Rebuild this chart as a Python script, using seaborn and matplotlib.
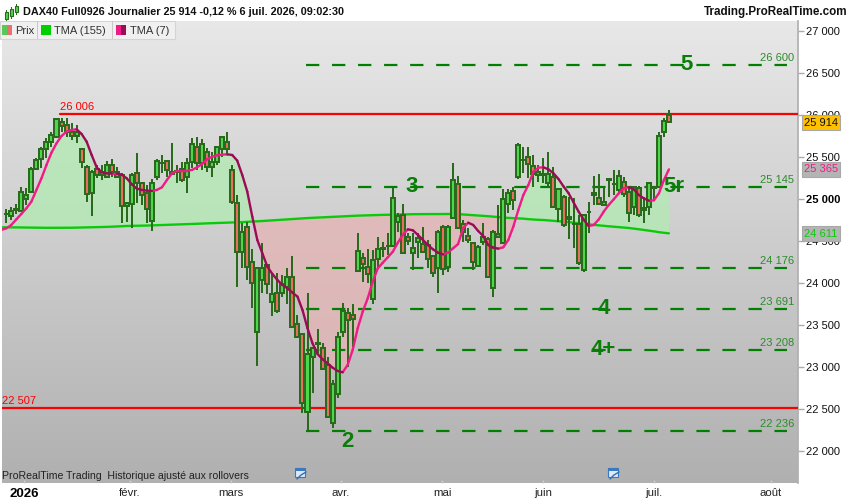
import numpy as np
import pandas as pd
import seaborn as sns
import matplotlib.pyplot as plt
from matplotlib.patches import Rectangle
from matplotlib.lines import Line2D

open_px = [
    24818, 24802, 24875, 24862, 24996, 25080, 25354, 25473, 25592, 25675,
    25735, 25913, 25881, 25802, 25754, 25592, 25385, 25068, 25354, 25282,
    25258, 25401, 25326, 25282, 24913, 24937, 25314, 25195, 25068, 24742,
    25258, 25423, 25453, 25326, 25324, 25362, 25258, 25437, 25615, 25425,
    25556, 25377, 25437, 25592, 25675, 25346, 24949, 24366, 24671, 24254,
    23421, 24036, 24215, 23778, 23877, 23885, 23949, 24068, 23508, 23389,
    22461, 23116, 23290, 23223, 23020, 22330, 22675, 23421, 23639, 23616,
    24147, 24294, 24195, 23806, 24282, 24407, 24439, 24445, 24722, 24810,
    24552, 24361, 24492, 24461, 24452, 24322, 24175, 24663, 24195, 24770,
    25175, 24699, 24556, 24472, 24206, 24492, 24520, 23945, 24579, 24480,
    24937, 25099, 25258, 25462, 25496, 25397, 25318, 25302, 25195, 25266,
    24885, 25028, 24758, 24700, 24698, 24155, 24843, 25075, 25016, 24933,
    25232, 25173, 25107, 25198, 25079, 24901, 25135, 24889, 24901, 25135,
    25139, 25794, 25996,
]
close_px = [
    24826, 24858, 24880, 25088, 25044, 25354, 25465, 25592, 25675, 25758,
    25949, 25869, 25794, 25750, 25802, 25437, 25056, 25326, 25282, 25326,
    25401, 25326, 25258, 24913, 24949, 25282, 25195, 25044, 24877, 25195,
    25453, 25427, 25346, 25294, 25328, 25223, 25433, 25651, 25425, 25651,
    25377, 25437, 25615, 25735, 25592, 24969, 24366, 24612, 24187, 23996,
    24175, 24183, 23985, 23866, 23671, 23989, 24068, 23481, 23354, 22568,
    23155, 23231, 23270, 22973, 22401, 22794, 23354, 23667, 23556, 23568,
    24381, 24223, 24108, 24274, 24401, 24411, 24443, 25008, 24802, 24361,
    24504, 24413, 24532, 24373, 24282, 24123, 24603, 24163, 24671, 25222,
    24651, 24611, 24512, 24254, 24433, 24552, 24068, 24603, 24544, 24996,
    25068, 24984, 25639, 25466, 25413, 25294, 25282, 25282, 25294, 24901,
    25115, 24687, 24782, 24704, 24242, 24806, 24847, 25044, 24936, 24968,
    25236, 25177, 25270, 25056, 24837, 25147, 24813, 24865, 25186, 25143,
    25750, 25932, 25914,
]
high_px = [
    24877, 24909, 24941, 25147, 25127, 25385, 25485, 25623, 25723, 25802,
    25949, 25961, 25961, 25901, 25881, 25592, 25405, 25346, 25405, 25405,
    25457, 25473, 25377, 25306, 24949, 25306, 25544, 25207, 25167, 25235,
    25477, 25524, 25465, 25663, 25405, 25445, 25485, 25723, 25735, 25711,
    25604, 25564, 25623, 25750, 25794, 25405, 25048, 24711, 24731, 24401,
    24195, 24473, 24215, 24124, 24116, 24096, 24175, 24322, 23620, 23389,
    23877, 23231, 23449, 23282, 23124, 22846, 23421, 23758, 23699, 23750,
    24600, 24362, 24401, 24393, 24552, 24492, 24592, 25127, 24829, 24941,
    24591, 24591, 24591, 24671, 24512, 24334, 24631, 24691, 24691, 25425,
    25274, 24750, 24651, 24492, 24452, 24710, 24552, 24631, 24929, 25115,
    25115, 25147, 25663, 25623, 25623, 25524, 25405, 25484, 25564, 25385,
    25127, 25048, 25028, 25008, 24810, 24806, 24968, 25274, 25294, 25127,
    25246, 25345, 25345, 25258, 25139, 25147, 25155, 25028, 25186, 25145,
    25802, 25960, 26059,
]
low_px = [
    24719, 24750, 24822, 24850, 24929, 25075, 25346, 25366, 25485, 25623,
    25723, 25802, 25742, 25703, 25671, 25366, 24969, 24798, 25246, 25227,
    25258, 25266, 25246, 24711, 24731, 24651, 24949, 24929, 24711, 24623,
    25227, 25306, 25258, 25286, 25187, 25207, 25076, 25366, 25346, 25346,
    25326, 25266, 25405, 25504, 25524, 24941, 23957, 24183, 24036, 23699,
    23016, 23877, 23870, 23612, 23639, 23838, 23750, 23481, 23354, 22449,
    22236, 22695, 23163, 22965, 22401, 22278, 22635, 23354, 23004, 23203,
    24147, 24008, 23996, 23750, 24194, 24314, 24334, 24433, 24612, 24345,
    24453, 24155, 24294, 24361, 24175, 24076, 23885, 24095, 24135, 24770,
    24651, 24492, 24472, 24155, 24195, 24452, 24056, 23838, 24532, 24472,
    24829, 24869, 25238, 25306, 25246, 25147, 25206, 25187, 25147, 24889,
    24730, 24671, 24520, 24413, 24214, 24131, 24591, 24929, 24929, 24917,
    25028, 25048, 25056, 25028, 24730, 24810, 24790, 24710, 24810, 24988,
    25139, 25742, 25901,
]
# averages start one session before the first visible candle
tma7 = [
    24632,
    24651, 24691, 24758, 24822, 24889, 24969, 25108, 25246, 25405, 25552,
    25663, 25750, 25802, 25822, 25830, 25774, 25683, 25524, 25377, 25318,
    25306, 25302, 25302, 25290, 25246, 25175, 25123, 25108, 25100, 25096,
    25108, 25139, 25227, 25306, 25334, 25334, 25334, 25346, 25377, 25417,
    25473, 25504, 25520, 25528, 25532, 25524, 25457, 25286, 25088, 24790,
    24512, 24354, 24195, 24108, 24036, 23977, 23937, 23885, 23838, 23679,
    23461, 23282, 23155, 23092, 23044, 22992, 22953, 22937, 23024, 23203,
    23461, 23659, 23818, 24016, 24175, 24242, 24306, 24373, 24480, 24576,
    24639, 24627, 24572, 24512, 24452, 24401, 24361, 24341, 24361, 24413,
    24464, 24651, 24718, 24691, 24619, 24560, 24452, 24421, 24409, 24425,
    24512, 24671, 24869, 25048, 25167, 25325, 25373, 25377, 25353, 25306,
    25238, 25150, 25070, 24960, 24850, 24755, 24679, 24690, 24755, 24849,
    24929, 24996, 25067, 25127, 25139, 25115, 25048, 25008, 24980, 24984,
    25067, 25226, 25353,
]
tma155 = [
    24663,
    24663, 24663, 24662, 24661, 24660, 24659, 24658, 24657, 24657, 24657,
    24657, 24657, 24657, 24658, 24659, 24660, 24662, 24664, 24665, 24666,
    24668, 24670, 24673, 24676, 24679, 24680, 24681, 24682, 24684, 24686,
    24688, 24690, 24692, 24694, 24695, 24697, 24699, 24702, 24705, 24708,
    24710, 24712, 24714, 24716, 24718, 24720, 24722, 24725, 24728, 24732,
    24735, 24738, 24742, 24746, 24750, 24754, 24758, 24762, 24766, 24770,
    24773, 24776, 24779, 24782, 24785, 24788, 24791, 24794, 24797, 24800,
    24802, 24804, 24806, 24808, 24810, 24811, 24812, 24813, 24814, 24816,
    24818, 24819, 24820, 24820, 24820, 24820, 24821, 24821, 24822, 24822,
    24820, 24816, 24812, 24808, 24804, 24800, 24795, 24790, 24785, 24780,
    24775, 24772, 24770, 24766, 24760, 24756, 24752, 24750, 24745, 24740,
    24735, 24730, 24725, 24718, 24712, 24705, 24698, 24692, 24685, 24680,
    24675, 24670, 24665, 24660, 24655, 24648, 24640, 24632, 24625, 24615,
    24605, 24598, 24591,
]

y_ticks = [27000, 26500, 26000, 25500, 25000, 24500, 24000, 23500, 23000, 22500, 22000]
month_labels = ['2026', 'févr.', 'mars', 'avr.', 'mai', 'juin', 'juil.', 'août']
month_pos = [3.6, 24.6, 44.8, 66.7, 86.8, 107.0, 129.0, 152.3]
levels = [26600, 25145, 24176, 23691, 23208, 22236]
level_labels = ['26 600', '25 145', '24 176', '23 691', '23 208', '22 236']
wave_labels = ['5', '3', '5r', '4', '4+', '2']
wave_pos = [(135.5, 26600), (80.8, 25145), (133, 25145), (119, 23691), (119, 23208), (68, 22110)]
resist_levels = [26006, 22507]
resist_labels = ['26 006', '22 507']

W, H = 850, 500
GREEN = '#4fd64f'
RED = '#e8705f'
EDGE = '#2a6a1c'
DASH = '#008000'


def fx(px):
    return px / W


def fy(px):
    return 1 - px / H


def price_str(v):
    return f"{v:,}".replace(",", " ")


sns.set_theme(style='white')
plt.rcParams['font.family'] = ['Liberation Sans', 'DejaVu Sans']

fig = plt.figure(figsize=(8.5, 5), dpi=100, facecolor='white')
ax = fig.add_axes([fx(2), fy(483), fx(796), (483 - 21) / H])

xlim = ((2 - 6.3) / 5.02, (798 - 6.3) / 5.02)
ylim = (26000 - (483 - 115) / 0.084, 26000 + (115 - 21) / 0.084)

# vertical grey gradient behind everything
grad = np.linspace(0, 1, 256).reshape(-1, 1)
ax.imshow(grad, aspect='auto', extent=(*xlim, *ylim), cmap=sns.blend_palette(['#b0b0b0', '#e8e8e8'], as_cmap=True),
          origin='lower', zorder=0)

idx = np.arange(len(close_px))
ma_idx = np.arange(-1, len(close_px))
fast = np.array(tma7, dtype=float)
slow = np.array(tma155, dtype=float)
ax.fill_between(ma_idx, fast, slow, where=fast >= slow, interpolate=True, color='#b4eab4', alpha=0.8, lw=0, zorder=1)
ax.fill_between(ma_idx, fast, slow, where=fast <= slow, interpolate=True, color='#e6b4b4', alpha=0.75, lw=0, zorder=1)

sns.lineplot(x=ma_idx, y=slow, color='#0acb0a', lw=1.7, ax=ax, zorder=2, legend=False)

# level lines
for lev, lab in zip(levels, level_labels):
    ax.plot([(306 - 6.3) / 5.02, (787 - 6.3) / 5.02], [lev, lev], color=DASH, lw=1.6,
            dashes=(13.3 / 2.22, 12.7 / 2.22), dash_capstyle='butt', zorder=3)
    ax.text((777 - 6.3) / 5.02, lev + 83, lab, color='#2c8c2c', fontsize=8, ha='center', va='center', zorder=6)

ax.plot([(60 - 6.3) / 5.02, xlim[1]], [resist_levels[0]] * 2, color='#fa0000', lw=1.6, zorder=3)
ax.plot([xlim[0], xlim[1]], [resist_levels[1]] * 2, color='#fa0000', lw=1.6, zorder=3)
ax.text((60 - 6.3) / 5.02, resist_levels[0] + 90, resist_labels[0], color='#fa0000', fontsize=8, va='center', zorder=6)
ax.text(xlim[0], resist_levels[1] + 90, resist_labels[1], color='#fa0000', fontsize=8, va='center', zorder=6)

# candles
op = np.array(open_px)
cl = np.array(close_px)
ax.vlines(idx, low_px, high_px, color=EDGE, lw=1.1, zorder=3.5, antialiased=False)
body_col = [GREEN if c >= o else RED for o, c in zip(op, cl)]
ax.bar(idx, np.abs(cl - op), bottom=np.minimum(op, cl), width=0.8, color=body_col, edgecolor=EDGE, lw=1.1,
       zorder=4, antialiased=False)

# fast average, pink rising and dark falling
segs = pd.DataFrame({
    'x': np.repeat(ma_idx[:-1], 2) + np.tile([0, 1], len(ma_idx) - 1),
    'y': np.column_stack([fast[:-1], fast[1:]]).ravel(),
    'seg': np.repeat(ma_idx[:-1], 2),
    'dir': np.repeat(np.where(np.diff(fast) >= 0, 'up', 'down'), 2),
})
sns.lineplot(data=segs, x='x', y='y', units='seg', estimator=None, hue='dir',
             palette={'up': '#f01c86', 'down': '#9c0b55'}, lw=1.7, ax=ax, legend=False, zorder=5)

for lab, (xv, yv) in zip(wave_labels, wave_pos):
    ax.text(xv, yv, lab, color='#0a7d0a', fontsize=16, fontweight='bold', ha='center', va='center', zorder=6)

ax.set_xlim(xlim)
ax.set_ylim(ylim)
ax.set_xlabel('')
ax.set_ylabel('')
ax.yaxis.tick_right()
ax.set_yticks(y_ticks)
ax.set_yticklabels([price_str(v) for v in y_ticks], fontsize=8, color='#111111')
ax.set_xticks(month_pos)
ax.set_xticklabels(month_labels, fontsize=8.2, color='#222222')
ax.tick_params(axis='y', length=4, width=1, color='#aaaaaa', pad=1.5, right=True)
ax.tick_params(axis='x', length=2, width=1, color='#cccccc', pad=3.5, bottom=True, direction='in')
for t, v in zip(ax.get_yticklabels(), y_ticks):
    if v == 25000:
        t.set_fontweight('bold')
        t.set_color('black')
ax.get_xticklabels()[0].set_fontweight('bold')
ax.get_xticklabels()[0].set_fontsize(9.5)
ax.get_xticklabels()[0].set_color('black')
for s in ['top', 'left', 'bottom']:
    ax.spines[s].set_visible(False)
ax.spines['right'].set_color('#b0b0b0')
ax.grid(False)


def px_rect(x, y, w, h, fc, ec='none', z=5):
    fig.add_artist(Rectangle((fx(x), fy(y + h)), w / W, h / H, transform=fig.transFigure,
                             facecolor=fc, edgecolor=ec, lw=0.8, zorder=z))


# header
fig.text(fx(23), fy(12), 'DAX40 Full0926 Journalier 25 914 -0,12 % 6 juil. 2026, 09:02:30',
         fontsize=7.85, fontweight='bold', color='#111111', va='center', zorder=6)
fig.text(fx(847), fy(12), 'Trading.ProRealTime.com', fontsize=8.4, fontweight='bold', color='#111111',
         va='center', ha='right', zorder=6)
for x0, y0, h0 in [(5, 12, 7), (10, 9, 7), (15, 6, 6)]:
    px_rect(x0 + 1, y0 - 2, 1, h0 + 5, EDGE)
    px_rect(x0, y0, 3, h0, GREEN, ec=EDGE)

# legend row
px_rect(0, 21, 175, 18, '#f0f0f0', ec='#d4d4d4')
px_rect(37, 21, 1, 18, '#c8c8c8', z=6)
px_rect(112, 21, 1, 18, '#c8c8c8', z=6)
px_rect(2, 25, 5, 10, '#58c858', z=6)
px_rect(7, 25, 5, 10, '#e87070', z=6)
px_rect(41, 25, 10, 10, '#00d000', z=6)
px_rect(116, 25, 5, 10, '#f01c86', z=6)
px_rect(121, 25, 5, 10, '#9c0b55', z=6)
fig.text(fx(15), fy(30.5), 'Prix', fontsize=8, color='#333333', va='center', zorder=7)
fig.text(fx(54), fy(30.5), 'TMA (155)', fontsize=8, color='#333333', va='center', zorder=7)
fig.text(fx(130), fy(30.5), 'TMA (7)', fontsize=8, color='#333333', va='center', zorder=7)

# footer
fig.text(fx(2), fy(476), 'ProRealTime Trading  Historique ajusté aux rollovers', fontsize=7.6,
         color='#222222', va='center', zorder=6)
for cx in [300, 613]:
    px_rect(cx - 5, 468, 10, 9, '#dfe9f5', ec='#3a78c0', z=6)
    px_rect(cx - 5, 468, 10, 2.5, '#3a78c0', z=6)
    fig.add_artist(Line2D([fx(cx - 3), fx(cx + 1), fx(cx + 6)], [fy(479), fy(475), fy(472)],
                          color='#2f6fb5', lw=1, zorder=7))

# last value boxes
boxes = [(122.5, '25 914', '#111111', '#ffc000'), (169.5, '25 365', '#f01c86', '#b4b4b4'),
         (233.5, '24 611', '#0acb0a', '#b4b4b4')]
for y_px, lab, col, bg in boxes:
    fig.text(fx(804), fy(y_px), lab, fontsize=8, color=col, va='center', ha='left', zorder=7,
             bbox=dict(boxstyle='square,pad=0.2', facecolor=bg, edgecolor='#a8a8a8', lw=0.8))

fig.savefig('out.png', dpi=100)
